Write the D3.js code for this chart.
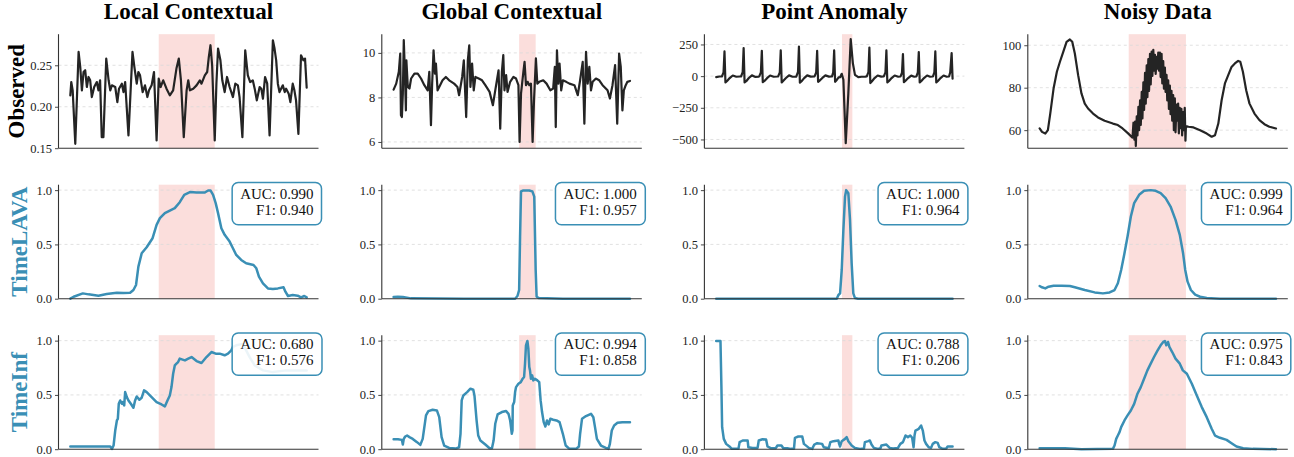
<!DOCTYPE html>
<html><head><meta charset="utf-8">
<script src="https://cdn.jsdelivr.net/npm/d3@7"></script>
<style>body{margin:0;background:#fff}svg{display:block}text{font-family:"Liberation Serif","Times New Roman",serif}</style>
</head><body><svg id="c" width="1294" height="457"></svg>
<script>
// ---------------- data ----------------
const columnTitles = ["Local Contextual", "Global Contextual", "Point Anomaly", "Noisy Data"];
const rowLabels = ["Observed", "TimeLAVA", "TimeInf"];
const anomalyStart = [374, 531, 532, 377];
const anomalyEnd = [611, 601, 576, 619];
const timeLength = [1000, 1000, 1000, 1000];
const aucLava = ["0.990", "1.000", "1.000", "0.999"];
const f1Lava = ["0.940", "0.957", "0.964", "0.964"];
const aucInf = ["0.680", "0.994", "0.788", "0.975"];
const f1Inf = ["0.576", "0.858", "0.206", "0.843"];
const observedTicks = [[0.15, 0.20, 0.25], [6, 8, 10], [-500, -250, 0, 250], [60, 80, 100]];
const observedTickLabels = [["0.15", "0.20", "0.25"], ["6", "8", "10"], ["\u2212500", "\u2212250", "0", "250"], ["60", "80", "100"]];
const observedLimits = [[0.15, 0.2875], [5.72, 10.84], [-569, 331], [51.5, 105.2]];
const scoreTicks = [0, 0.5, 1.0];
const scoreTickLabels = ["0.0", "0.5", "1.0"];
const scoreLimits = [0, 1.05];

// Local Contextual
const localObserved = [[0,0.2137],[4,0.2298],[10,0.2198],[21,0.1553],[35,0.2661],[42,0.248],[49,0.2198],[56,0.2419],[63,0.244],[70,0.2238],[77,0.2359],[84,0.2319],[91,0.2117],[101,0.2238],[112,0.2298],[119,0.2198],[126,0.2319],[133,0.1633],[140,0.1633],[152,0.2581],[162,0.2319],[169,0.2198],[176,0.2258],[190,0.2238],[199,0.2056],[206,0.2218],[218,0.2278],[225,0.2177],[232,0.2298],[246,0.1653],[263,0.2661],[271,0.248],[281,0.2278],[288,0.2419],[295,0.2379],[306,0.2177],[316,0.2258],[326,0.2117],[333,0.2198],[344,0.2258],[354,0.2419],[365,0.1593],[374,0.2339],[382,0.2238],[393,0.2319],[407,0.2218],[421,0.2137],[435,0.2198],[449,0.246],[459,0.2581],[468,0.2319],[480,0.1633],[492,0.2198],[499,0.2319],[506,0.2198],[520,0.2218],[534,0.2258],[548,0.2319],[555,0.2278],[569,0.2379],[579,0.2419],[586,0.2601],[593,0.2742],[600,0.25],[611,0.1593],[618,0.2278],[625,0.2702],[635,0.256],[643,0.2319],[653,0.2177],[663,0.2359],[674,0.2238],[688,0.2117],[698,0.2278],[709,0.2258],[716,0.2117],[728,0.1633],[740,0.2681],[751,0.2379],[761,0.2298],[772,0.2319],[780,0.2218],[789,0.2077],[801,0.2238],[808,0.2218],[815,0.2097],[824,0.2359],[833,0.2278],[843,0.1653],[857,0.2802],[864,0.2702],[871,0.256],[878,0.2278],[885,0.2177],[899,0.2258],[907,0.2177],[913,0.2218],[924,0.2157],[931,0.2056],[941,0.2278],[948,0.2198],[955,0.2077],[965,0.1673],[976,0.2621],[986,0.256],[993,0.2581],[1000,0.223]];
const localLava = [[0,0.0],[14,0.018],[53,0.049],[77,0.04],[119,0.028],[154,0.043],[197,0.055],[225,0.052],[253,0.055],[267,0.08],[278,0.126],[288,0.295],[302,0.418],[323,0.474],[348,0.557],[365,0.68],[379,0.742],[400,0.788],[421,0.812],[442,0.834],[463,0.889],[482,0.957],[506,0.982],[534,0.978],[569,0.978],[583,0.997],[593,0.997],[604,0.957],[615,0.88],[625,0.788],[639,0.649],[653,0.588],[674,0.526],[688,0.465],[702,0.403],[723,0.357],[744,0.326],[775,0.311],[787,0.28],[798,0.203],[815,0.142],[836,0.095],[857,0.089],[878,0.095],[902,0.105],[910,0.065],[921,0.025],[941,0.034],[962,0.028],[976,0.012],[990,0.025],[1000,0.012]];
const localInf = [[0,0.025],[169,0.025],[176,0.003],[183,0.034],[190,0.172],[197,0.265],[201,0.28],[205,0.418],[211,0.449],[218,0.418],[222,0.434],[228,0.403],[232,0.526],[239,0.48],[246,0.449],[256,0.418],[267,0.382],[274,0.449],[281,0.486],[292,0.455],[302,0.474],[312,0.542],[323,0.526],[344,0.48],[365,0.434],[386,0.412],[400,0.394],[411,0.449],[421,0.495],[428,0.572],[435,0.695],[442,0.772],[449,0.788],[456,0.803],[463,0.834],[475,0.825],[485,0.818],[499,0.834],[513,0.849],[534,0.812],[555,0.794],[576,0.849],[597,0.895],[615,0.88],[632,0.88],[653,0.865],[667,0.88],[681,0.911],[688,0.942],[702,0.957],[730,0.97],[758,0.85],[780,0.772],[815,0.726],[857,0.71],[913,0.726],[1000,0.726]];

// Global Contextual
const globalObserved = [[0,8.35],[11,8.62],[22,9.15],[28,9.97],[31,7.2],[35,7.12],[39,8.17],[43,10.57],[47,9.37],[52,7.42],[54,9.67],[60,8.47],[67,8.4],[74,8.85],[88,9.07],[102,9.07],[116,8.85],[130,8.55],[144,8.32],[151,9.15],[158,6.75],[163,8.62],[169,10.12],[175,9.07],[179,9.52],[186,8.32],[193,8.47],[207,8.77],[221,8.92],[235,8.77],[256,8.62],[270,8.47],[277,8.1],[290,8.92],[297,9.67],[307,7.12],[314,9.67],[320,10.34],[325,8.47],[332,9.52],[339,8.32],[346,8.92],[360,8.85],[374,8.77],[388,8.55],[406,8.25],[420,7.65],[430,8.32],[444,9.22],[451,6.6],[458,9.15],[464,9.9],[469,8.32],[476,9.0],[482,8.25],[493,8.7],[507,8.92],[518,8.85],[528,8.55],[533,6.0],[539,8.17],[549,9.15],[554,9.6],[560,8.55],[567,8.7],[574,8.55],[581,8.62],[588,6.0],[594,7.87],[602,9.75],[608,8.62],[616,8.7],[633,8.77],[647,8.62],[663,8.32],[675,8.4],[682,9.37],[686,6.67],[691,10.12],[697,8.62],[702,9.52],[709,8.32],[716,8.77],[730,8.7],[744,8.62],[765,8.55],[779,8.1],[789,8.77],[800,9.6],[807,6.82],[814,10.05],[821,8.62],[828,9.37],[835,8.32],[842,8.7],[856,8.85],[870,8.77],[884,8.55],[905,8.32],[915,7.95],[926,8.55],[937,9.45],[946,6.82],[954,9.97],[961,9.37],[968,7.42],[974,8.32],[982,8.55],[989,8.7],[1000,8.74]];
const globalLava = [[0,0.015],[18,0.018],[39,0.015],[74,0.003],[297,0.0],[514,0.0],[524,0.025],[531,0.08],[535,0.57],[539,0.988],[549,0.997],[574,0.997],[587,0.988],[595,0.94],[601,0.265],[605,0.018],[615,0.006],[716,0.0],[1000,0.0]];
const globalInf = [[0,0.092],[18,0.092],[35,0.086],[39,0.043],[43,0.095],[49,0.117],[57,0.126],[67,0.111],[81,0.095],[99,0.065],[113,0.04],[123,0.095],[130,0.203],[137,0.311],[147,0.351],[165,0.363],[183,0.357],[193,0.295],[203,0.111],[214,0.034],[235,0.012],[263,0.006],[277,0.018],[283,0.142],[288,0.449],[295,0.495],[311,0.526],[325,0.557],[337,0.548],[342,0.495],[351,0.265],[358,0.126],[367,0.08],[388,0.043],[406,0.009],[416,0.009],[423,0.08],[430,0.234],[440,0.32],[458,0.342],[476,0.351],[486,0.326],[493,0.265],[500,0.142],[503,0.172],[504,0.403],[510,0.434],[514,0.526],[518,0.572],[528,0.603],[538,0.618],[546,0.649],[552,0.665],[556,0.788],[560,0.957],[566,0.997],[570,0.926],[574,0.757],[577,0.726],[581,0.649],[586,0.68],[591,0.634],[598,0.649],[608,0.634],[616,0.618],[622,0.449],[628,0.342],[635,0.249],[642,0.209],[649,0.265],[656,0.228],[663,0.28],[675,0.271],[689,0.265],[702,0.249],[716,0.142],[728,0.034],[744,0.003],[772,0.003],[784,0.025],[789,0.142],[797,0.28],[814,0.305],[835,0.326],[845,0.295],[852,0.203],[860,0.095],[877,0.034],[898,0.012],[909,0.003],[915,0.049],[923,0.172],[933,0.218],[947,0.243],[968,0.249],[1000,0.249]];

// Point Anomaly
const pointObserved = [[0,-8],[14,-3],[24,-3],[31,30],[35,195],[39,-50],[46,-38],[57,-15],[70,5],[85,-5],[100,-3],[105,-3],[112,32],[116,221],[120,-50],[127,-40],[138,-15],[151,6],[166,-6],[180,-4],[182,-2],[189,30],[193,200],[197,-48],[204,-38],[215,-16],[228,5],[243,-5],[260,-3],[262,-2],[269,30],[273,203],[277,-50],[284,-36],[295,-15],[308,6],[323,-5],[338,-4],[339,-2],[346,33],[350,234],[354,-52],[361,-40],[372,-16],[385,6],[400,-4],[415,-3],[416,-2],[423,30],[427,200],[431,-45],[438,-35],[449,-14],[462,6],[477,-4],[488,-3],[490,-2],[495,30],[499,203],[503,-45],[510,-30],[518,-10],[524,-8],[531,18],[538,-29],[548,-529],[559,-134],[569,292],[578,103],[587,10],[601,-8],[615,-5],[630,-4],[637,-2],[644,32],[648,226],[652,-55],[659,-40],[670,-15],[683,5],[698,-4],[708,-3],[709,-2],[716,30],[720,203],[724,-50],[731,-38],[742,-15],[755,5],[770,-5],[779,-3],[780,-2],[786,28],[790,174],[794,-48],[801,-36],[812,-15],[825,4],[838,-5],[846,-3],[847,-2],[853,30],[857,190],[861,-50],[868,-38],[879,-15],[892,5],[905,-5],[916,-3],[917,-2],[923,30],[927,195],[931,-50],[938,-38],[949,-15],[962,5],[975,-5],[985,-3],[990,30],[996,182],[1000,-20]];
const pointLava = [[0,0.0],[510,0.0],[517,0.034],[524,0.049],[531,0.265],[538,0.634],[545,0.942],[550,1.0],[559,0.972],[566,0.726],[573,0.326],[580,0.049],[587,0.006],[600,0.0],[1000,0.0]];
const pointInf = [[0,0.997],[18,0.997],[22,0.572],[25,0.203],[32,0.095],[42,0.049],[56,0.025],[66,0.003],[94,0.003],[99,0.065],[112,0.08],[133,0.08],[136,0.018],[154,0.012],[175,0.012],[180,0.08],[196,0.092],[211,0.089],[217,0.025],[231,0.009],[252,0.009],[259,0.034],[276,0.034],[284,0.009],[301,0.009],[315,0.003],[329,0.003],[333,0.105],[347,0.117],[364,0.117],[371,0.049],[392,0.012],[406,0.003],[415,0.043],[427,0.055],[448,0.049],[455,0.018],[476,0.009],[483,0.065],[496,0.074],[517,0.08],[520,0.049],[524,0.025],[531,0.074],[545,0.095],[552,0.111],[559,0.074],[573,0.034],[587,0.012],[608,0.003],[625,0.006],[629,0.065],[643,0.074],[650,0.08],[657,0.043],[667,0.012],[685,0.003],[695,0.009],[699,0.034],[720,0.043],[734,0.012],[748,0.006],[769,0.012],[779,0.049],[790,0.065],[801,0.126],[811,0.111],[821,0.126],[829,0.105],[835,0.018],[839,0.126],[843,0.172],[857,0.188],[867,0.218],[874,0.172],[881,0.08],[888,0.049],[899,0.018],[909,0.012],[916,0.049],[927,0.065],[937,0.058],[944,0.018],[958,0.003],[972,0.003],[979,0.025],[1000,0.025]];

// Noisy Data
const noisyObserved = [[0,60.8],[10,59.2],[24,58.4],[35,60],[45,67.8],[59,79.6],[73,87.5],[86,92.2],[100,96.9],[114,101.6],[128,102.7],[138,101.6],[149,96.1],[163,85.9],[177,77.3],[191,72.5],[205,70.2],[226,67.8],[247,66],[275,64.4],[310,63.1],[331,62.4],[351,60.8],[372,58.7],[393,56.5],[397,63.5],[401,55.5],[404,64],[407,52.5],[411,66.5],[414,57.5],[418,71],[421,60],[425,74],[428,62.5],[432,78],[435,65.5],[439,82.5],[442,69.5],[446,87],[449,72.5],[453,90.5],[456,75.5],[460,93.5],[463,78.5],[467,96],[470,81.5],[474,97],[477,85.5],[481,97.8],[484,88],[488,95.5],[491,86.5],[495,94.5],[498,89],[502,96.5],[505,88],[509,96.5],[512,85],[516,96],[519,82],[523,92.5],[526,79.5],[530,89.5],[533,78],[537,86],[540,74],[544,83.5],[547,70],[551,81],[554,67.5],[558,78.5],[561,64.5],[565,76.5],[568,60],[572,75],[575,59],[579,72],[582,64.5],[586,72.5],[589,58.5],[593,70.5],[596,61],[600,70],[603,57.5],[607,68.5],[610,60],[614,70.5],[617,55],[619,61.9],[630,61.6],[651,61.3],[679,60],[707,58.4],[728,56.9],[742,57.6],[756,63.1],[770,74.1],[784,82],[798,85.9],[812,89.8],[826,91.4],[840,92.6],[849,92.2],[860,87.5],[874,78.8],[888,72.5],[909,67.8],[930,64.7],[951,62.8],[972,61.6],[1000,60.8]];
const noisyLava = [[0,0.117],[10,0.105],[24,0.095],[38,0.111],[59,0.12],[93,0.12],[128,0.117],[149,0.105],[191,0.08],[233,0.058],[268,0.049],[296,0.058],[317,0.08],[331,0.142],[345,0.265],[359,0.418],[372,0.572],[386,0.757],[400,0.88],[421,0.957],[442,0.994],[470,1.0],[491,0.994],[512,0.972],[533,0.926],[554,0.849],[575,0.726],[593,0.588],[607,0.418],[616,0.265],[626,0.157],[640,0.08],[658,0.037],[679,0.018],[707,0.006],[763,0.0],[1000,0.0]];
const noisyInf = [[0,0.009],[107,0.009],[177,0.0],[310,0.003],[317,0.034],[324,0.095],[331,0.126],[338,0.157],[345,0.203],[359,0.265],[372,0.311],[386,0.357],[400,0.418],[414,0.511],[428,0.572],[442,0.649],[456,0.726],[470,0.788],[484,0.849],[498,0.905],[512,0.957],[523,0.988],[530,0.997],[536,0.957],[543,0.988],[549,0.942],[561,0.895],[575,0.834],[593,0.788],[606,0.726],[623,0.695],[644,0.603],[665,0.495],[686,0.388],[707,0.295],[728,0.188],[742,0.126],[763,0.105],[791,0.086],[812,0.055],[833,0.025],[861,0.009],[902,0.003],[1000,0.0]];

const observedSeries = [localObserved, globalObserved, pointObserved, noisyObserved];
const lavaSeries = [localLava, globalLava, pointLava, noisyLava];
const infSeries = [localInf, globalInf, pointInf, noisyInf];

// ---------------- layout / style ----------------
const colLeft = [58.5, 381.8, 704.4, 1027.8];
const panelW = 260;
const rowTop = [34.2, 184.7, 335.2];
const panelH = 114;
const TEAL = "#3a8fb5";
const OBS = "#242424";
const SHADE = "rgba(236,90,80,0.2)";

const svg = d3.select("#c");

columnTitles.forEach((t, c) => {
  svg.append("text").attr("x", colLeft[c] + panelW / 2).attr("y", 19)
    .attr("text-anchor", "middle").attr("font-size", 23).attr("font-weight", "bold")
    .attr("fill", "#000").text(t);
});

const labelX = [24, 27, 27];
rowLabels.forEach((t, r) => {
  const cy = rowTop[r] + panelH / 2;
  svg.append("text").attr("transform", `translate(${labelX[r]},${cy}) rotate(-90)`)
    .attr("text-anchor", "middle").attr("font-size", 23).attr("font-weight", "bold")
    .attr("fill", r === 0 ? "#000" : TEAL).text(t);
});

function panel(r, c, data, yDomain, ticks, tickLabels, color, lw, auc, f1) {
  const g = svg.append("g").attr("transform", `translate(${colLeft[c]},${rowTop[r]})`);
  const t0 = 0, t1 = timeLength[c];
  const pad = (t1 - t0) * 0.05;
  const x = d3.scaleLinear().domain([t0 - pad, t1 + pad]).range([0, panelW]);
  const y = d3.scaleLinear().domain(yDomain).range([panelH, 0]);

  g.append("rect").attr("x", x(anomalyStart[c])).attr("y", 0)
    .attr("width", x(anomalyEnd[c]) - x(anomalyStart[c])).attr("height", panelH)
    .attr("fill", SHADE);

  g.selectAll(".grid").data(ticks.filter(v => y(v) > 0.5 && y(v) < panelH - 0.5)).enter()
    .append("line").attr("x1", 0).attr("x2", panelW)
    .attr("y1", d => y(d)).attr("y2", d => y(d))
    .attr("stroke", "#d9d9d9").attr("stroke-width", 0.8).attr("stroke-dasharray", "3,3");

  const line = d3.line().x(d => x(d[0])).y(d => y(d[1]));
  g.append("path").datum(data).attr("d", line).attr("fill", "none")
    .attr("stroke", color).attr("stroke-width", lw).attr("stroke-linejoin", "round")
    .attr("stroke-linecap", "round");

  const ax = d3.axisLeft(y).tickValues(ticks).tickFormat((d, i) => tickLabels[i])
    .tickSize(3.5).tickPadding(3);
  const ag = g.append("g").call(ax);
  ag.select(".domain").remove();
  ag.selectAll("line").attr("stroke", "#333").attr("stroke-width", 0.9);
  ag.selectAll("text").attr("font-size", 12.5).attr("fill", "#222")
    .attr("font-family", '"Liberation Serif","Times New Roman",serif');

  g.append("line").attr("x1", 0).attr("x2", 0).attr("y1", 0).attr("y2", panelH)
    .attr("stroke", "#333").attr("stroke-width", 1.1);
  g.append("line").attr("x1", 0).attr("x2", panelW).attr("y1", panelH).attr("y2", panelH)
    .attr("stroke", "#333").attr("stroke-width", 1.1);

  if (auc) {
    const tg = g.append("g");
    const tx = panelW - 5;
    tg.append("text").attr("x", tx).attr("y", 14.3).attr("text-anchor", "end")
      .attr("font-size", 15).attr("fill", "#111").text("AUC: " + auc);
    tg.append("text").attr("x", tx).attr("y", 30.3).attr("text-anchor", "end")
      .attr("font-size", 15).attr("fill", "#111").text("F1: " + f1);
    const bb = tg.node().getBBox();
    g.insert("rect", function () { return tg.node(); })
      .attr("x", bb.x - 8).attr("y", -2.3).attr("width", bb.width + 16).attr("height", 42.3)
      .attr("rx", 6).attr("ry", 6)
      .attr("fill", "rgba(255,255,255,0.9)").attr("stroke", TEAL).attr("stroke-width", 1.5);
  }
}

for (let c = 0; c < 4; c++) {
  panel(0, c, observedSeries[c], observedLimits[c], observedTicks[c], observedTickLabels[c], OBS, 2.2, null, null);
  panel(1, c, lavaSeries[c], scoreLimits, scoreTicks, scoreTickLabels, TEAL, 2.5, aucLava[c], f1Lava[c]);
  panel(2, c, infSeries[c], scoreLimits, scoreTicks, scoreTickLabels, TEAL, 2.5, aucInf[c], f1Inf[c]);
}
</script></body></html>
